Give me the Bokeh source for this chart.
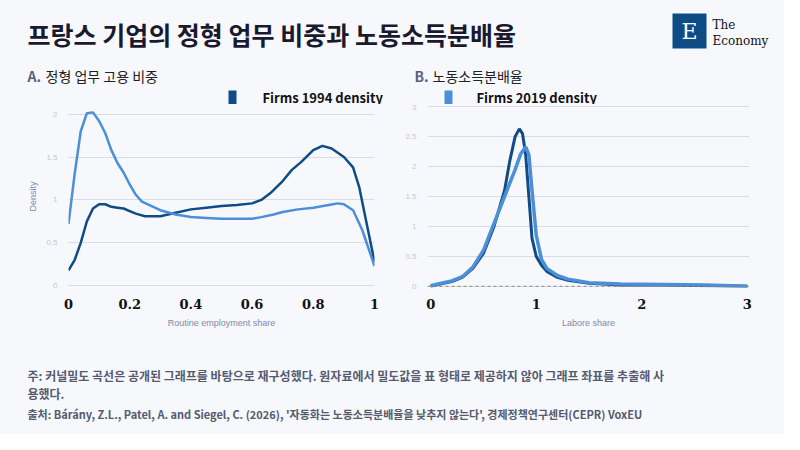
from bokeh.plotting import figure
from bokeh.layouts import column, row
from bokeh.models import Range1d, FixedTicker, Span
from bokeh.core.properties import value
from bokeh.embed import file_html
from bokeh.resources import INLINE

BG = "#f7f8fc"
DARK = "#0f4c86"
LIGHT = "#4a8fd8"
FONT = "Noto Sans CJK KR"

# Panel A: routine employment share densities
a_x94 = [0, .02, .04, .06, .08, .1, .12, .14, .16, .18, .2, .22, .25, .3, .35, .4, .45, .5, .55, .6, .63, .66, .7, .73, .76, .8, .83, .86, .9, .93, .95, .97, 1.0]
a_y94 = [.18, .3, .5, .75, .9, .95, .95, .92, .91, .9, .87, .84, .81, .81, .85, .89, .91, .93, .94, .96, 1.0, 1.08, 1.22, 1.35, 1.44, 1.58, 1.63, 1.6, 1.5, 1.38, 1.15, .8, .28]
a_x19 = [0, .02, .04, .06, .08, .1, .12, .14, .16, .18, .2, .22, .24, .27, .3, .35, .4, .45, .5, .55, .6, .63, .67, .7, .75, .8, .85, .88, .9, .93, .96, 1.0]
a_y19 = [.72, 1.3, 1.8, 2.01, 2.02, 1.92, 1.78, 1.58, 1.43, 1.32, 1.18, 1.06, .98, .93, .88, .83, .8, .79, .78, .78, .78, .8, .83, .86, .89, .91, .94, .96, .95, .88, .65, .23]
# Panel B: labour share densities
b_x94 = [0, .1, .2, .3, .4, .5, .6, .7, .75, .8, .84, .87, .9, .93, .96, 1.0, 1.05, 1.1, 1.2, 1.3, 1.5, 1.8, 2.2, 3.0]
b_y94 = [0, .04, .08, .15, .3, .55, 1.0, 1.6, 2.1, 2.5, 2.63, 2.55, 2.2, 1.5, .8, .5, .35, .25, .15, .1, .05, .02, .02, 0]
b_x19 = [0, .1, .2, .3, .4, .5, .6, .7, .8, .85, .9, .93, .96, 1.0, 1.05, 1.1, 1.2, 1.3, 1.5, 1.8, 2.2, 2.6, 3.0]
b_y19 = [.01, .05, .09, .16, .32, .6, 1.05, 1.5, 1.95, 2.2, 2.33, 2.2, 1.6, .85, .45, .3, .18, .12, .06, .04, .03, .02, 0]

a_xticks = [0, 0.2, 0.4, 0.6, 0.8, 1]
a_yticks = [0, 0.5, 1, 1.5, 2]
b_xticks = [0, 1, 2, 3]
b_yticks = [0, 0.5, 1, 1.5, 2, 2.5, 3]
legend_labels = ["Firms 1994 density", "Firms 2019 density"]
panel_titles = ["정형 업무 고용 비중", "노동소득분배율"]

def base(w, h):
    p = figure(width=w, height=h, x_range=Range1d(0, w), y_range=Range1d(h, 0), output_backend="svg",
               toolbar_location=None, background_fill_color=BG, border_fill_color=BG,
               outline_line_color=None, min_border=0)
    p.axis.visible = False
    p.grid.visible = False
    return p

# header
H = base(784, 62)
H.text(x=[27], y=[33], text=["프랑스 기업의 정형 업무 비중과 노동소득분배율"], text_font=value(FONT),
       text_font_size="25px", text_font_style="bold", text_color="#1a1a2e", text_baseline="middle")
H.quad(left=[672], right=[706], top=[13], bottom=[48], fill_color="#0f4c86", line_color=None)
H.text(x=[689], y=[31], text=["E"], text_font=value("DejaVu Serif"), text_font_size="22px",
       text_color="white", text_align="center", text_baseline="middle")
H.text(x=[712, 712], y=[24, 40], text=["The", "Economy"], text_font=value("DejaVu Serif"),
       text_font_size="12px", text_color="#111", text_baseline="middle")

# strip with panel titles and legends
S = base(784, 42)
S.text(x=[27, 414], y=[13, 13], text=["A.", "B."], text_font=value(FONT), text_font_size="14px",
       text_font_style="bold", text_color="#5a6080", text_baseline="middle")
S.text(x=[45, 432], y=[13, 13], text=panel_titles, text_font=value(FONT), text_font_size="14px",
       text_color="#222", text_baseline="middle")
S.quad(left=[228, 444], right=[236, 452], top=[28, 28], bottom=[42, 42],
       fill_color=[DARK, LIGHT], line_color=None)
S.text(x=[262, 476], y=[35, 35], text=legend_labels, text_font=value(FONT), text_font_size="13px",
       text_font_style="bold", text_color="#111", text_baseline="middle")

def chart(w, h, xr, yr, lb, rb, tb, bb, xticks, yticks, xlabel, ylabel, series):
    p = figure(width=w, height=h, x_range=xr, y_range=yr, output_backend="svg",
               toolbar_location=None, background_fill_color=BG, border_fill_color=BG,
               outline_line_color=None, min_border_left=lb, min_border_right=rb,
               min_border_top=tb, min_border_bottom=bb)
    p.xaxis.ticker = FixedTicker(ticks=xticks)
    p.yaxis.ticker = FixedTicker(ticks=yticks)
    p.xgrid.visible = False
    p.ygrid.grid_line_color = "#d8dce6"
    p.axis.axis_line_color = None
    p.axis.major_tick_line_color = None
    p.axis.minor_tick_line_color = None
    p.xaxis.major_label_text_font = "DejaVu Serif"
    p.xaxis.major_label_text_font_style = "bold"
    p.xaxis.major_label_text_font_size = "13px"
    p.xaxis.major_label_text_color = "#111"
    p.yaxis.major_label_text_font_size = "8px"
    p.yaxis.major_label_text_color = "#c4c8d4"
    p.xaxis.axis_label = xlabel
    p.xaxis.axis_label_text_font_size = "9px"
    p.xaxis.axis_label_text_font_style = "normal"
    p.xaxis.axis_label_text_color = "#8088a8"
    p.xaxis.axis_label_standoff = 6
    if ylabel:
        p.yaxis.axis_label = ylabel
        p.yaxis.axis_label_text_font_size = "9px"
        p.yaxis.axis_label_text_font_style = "normal"
        p.yaxis.axis_label_text_color = "#8088a8"
    for xs, ys, c, wdt in series:
        p.line(xs, ys, line_color=c, line_width=wdt)
    return p

A = chart(392, 238, Range1d(0, 1), Range1d(-0.02, 2.1), 68, 18, 0, 55, a_xticks, a_yticks,
          "Routine employment share", "Density",
          [(a_x94, a_y94, DARK, 2.5), (a_x19, a_y19, LIGHT, 2.5)])
B = chart(392, 238, Range1d(-0.03, 3.02), Range1d(-0.02, 3.02), 35, 35, 1, 49, b_xticks, b_yticks,
          "Labore share", None,
          [(b_x94, b_y94, DARK, 3), (b_x19, b_y19, LIGHT, 3.5)])
B.add_layout(Span(location=0, dimension="width", line_color="#888", line_dash="3 3", line_width=1))

F = base(784, 92)
F.text(x=[27, 27], y=[33, 51],
       text=["주: 커널밀도 곡선은 공개된 그래프를 바탕으로 재구성했다. 원자료에서 밀도값을 표 형태로 제공하지 않아 그래프 좌표를 추출해 사",
             "용했다."], text_font=value(FONT), text_font_size="12px", text_color="#555a6e",
       text_baseline="middle", text_font_style="bold")
F.text(x=[27], y=[71],
       text=["출처: Bárány, Z.L., Patel, A. and Siegel, C. (2026), '자동화는 노동소득분배율을 낮추지 않는다', 경제정책연구센터(CEPR) VoxEU"],
       text_font=value(FONT), text_font_size="11px", text_color="#555a6e",
       text_baseline="middle", text_font_style="bold")

layout = column(H, S, row(A, B, spacing=0), F, spacing=0, background=BG)
open("out.html", "w").write(file_html(layout, INLINE))
